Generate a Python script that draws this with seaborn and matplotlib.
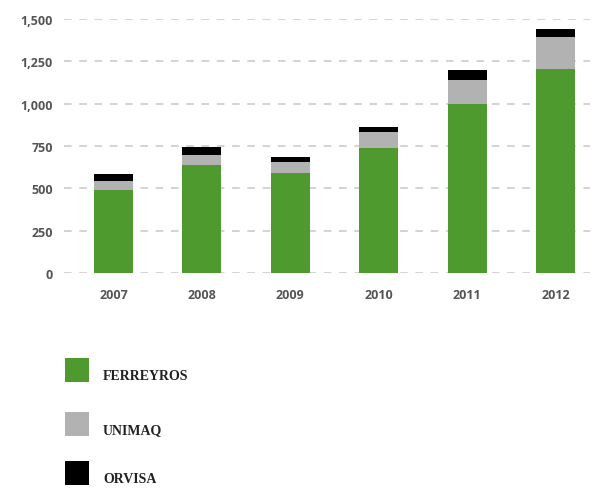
import matplotlib
matplotlib.use("Agg")
import matplotlib.pyplot as plt
import seaborn as sns
import pandas as pd
from matplotlib.patches import Rectangle
from matplotlib.ticker import FuncFormatter

years = ["2007", "2008", "2009", "2010", "2011", "2012"]
ferreyros = [490, 638, 590, 738, 998, 1205]
unimaq = [53, 59, 65, 95, 142, 189]
orvisa = [42, 47, 30, 29, 59, 47]
series_names = ["FERREYROS", "UNIMAQ", "ORVISA"]
colors = ["#4f9a2e", "#b2b2b2", "#000000"]

sns.set_theme(style="white")
plt.rcParams["font.family"] = ["Open Sans", "DejaVu Sans"]

df = pd.DataFrame({"year": years, "FERREYROS": ferreyros,
                   "UNIMAQ": unimaq, "ORVISA": orvisa})
df["c1"] = df["FERREYROS"]
df["c2"] = df["c1"] + df["UNIMAQ"]
df["c3"] = df["c2"] + df["ORVISA"]

fig = plt.figure(figsize=(5.93, 4.89), dpi=100)
W, H = 593, 489
ax = fig.add_axes([64 / W, (H - 274) / H, (590 - 64) / W, (274 - 20) / H])

for col, c in zip(["c3", "c2", "c1"], colors[::-1]):
    sns.barplot(data=df, x="year", y=col, color=c, width=0.44, ax=ax,
                saturation=1, edgecolor="none", linewidth=0, zorder=3)

ax.set_ylim(0, 1500)
ax.set_xlim(-0.56, 5.39)
ax.set_yticks([0, 250, 500, 750, 1000, 1250, 1500])
ax.yaxis.set_major_formatter(FuncFormatter(lambda v, p: f"{int(v):,}"))
ax.grid(axis="y", color="#c8c8c8", linestyle=(0, (5, 5)), linewidth=1.1, zorder=0)
ax.grid(axis="x", visible=False)
for s in ax.spines.values():
    s.set_visible(False)
ax.set_xlabel("")
ax.set_ylabel("")
ax.tick_params(axis="both", length=0, labelsize=9, labelcolor="#555555")
ax.tick_params(axis="y", pad=8)
ax.tick_params(axis="x", pad=11)
for lab in ax.get_xticklabels() + ax.get_yticklabels():
    lab.set_fontweight("bold")

# legend
sq_tops = [359, 413, 462]
for name, c, top in zip(series_names, colors, sq_tops):
    fig.add_artist(Rectangle((65 / W, (H - top - 24) / H), 24 / W, 24 / H,
                             transform=fig.transFigure, color=c, lw=0))
    fig.text(103 / W, (H - top - 18) / H, name, ha="left", va="center",
             fontsize=10, fontweight="bold", color="#222222",
             family=["Liberation Serif", "DejaVu Serif"])

fig.savefig("out.png", dpi=100)
